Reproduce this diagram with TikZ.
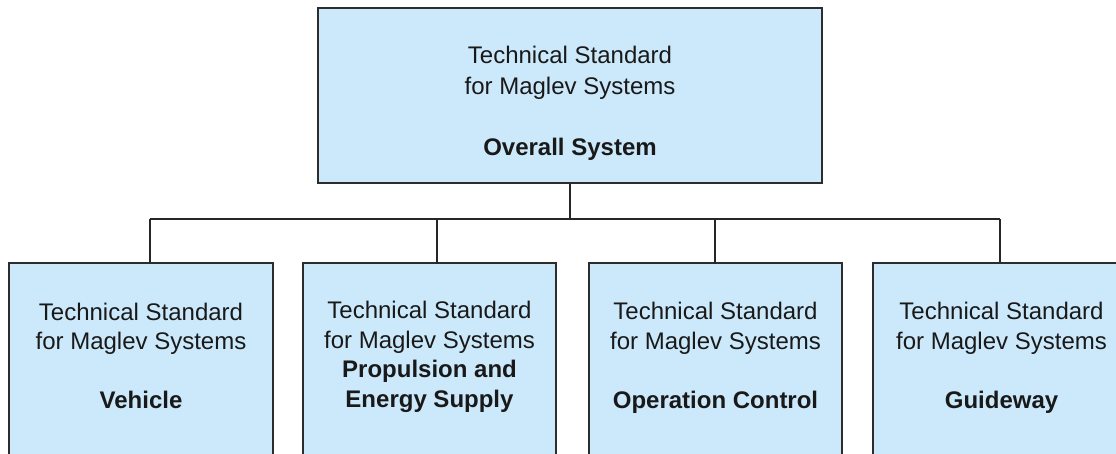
\documentclass[tikz,border=0pt]{standalone}
\usepackage{fontspec}
\setmainfont{Liberation Sans}
\definecolor{boxfill}{RGB}{204,233,251}
\definecolor{boxline}{RGB}{45,45,45}
\begin{document}
\begin{tikzpicture}[x=1pt,y=-1pt,
  stdbox/.style={draw=boxline,fill=boxfill,line width=1.6pt,rectangle,inner sep=0pt},
  boxtext/.style={align=center,font=\fontsize{24}{29.5}\selectfont,text=black!90},
  toptext/.style={boxtext,font=\fontsize{24}{31}\selectfont},
  conn/.style={draw=black!85,line width=1.6pt}]
\useasboundingbox (0,0) rectangle (1116,453);
\begin{scope}
\clip (0,0) rectangle (1116,453);
% top box
\node[stdbox,minimum width=504pt,minimum height=175pt] (top) at (570,95.5) {};
\node[toptext] (tt) at (570,103.5) {Technical Standard\\for Maglev Systems\\[30pt]\textbf{Overall System}};
% bottom boxes
\node[stdbox,minimum width=264pt,minimum height=220pt] (b1) at (141,373) {};
\node[stdbox,minimum width=253pt,minimum height=220pt] (b2) at (429.5,373) {};
\node[stdbox,minimum width=253pt,minimum height=220pt] (b3) at (715.5,373) {};
\node[stdbox,minimum width=257pt,minimum height=220pt] (b4) at (1001.5,373) {};
\node[boxtext] (t1) at (141,356) {Technical Standard\\for Maglev Systems\\[29.5pt]\textbf{Vehicle}};
\node[boxtext] (t2) at (429.5,357) {Technical Standard\\for Maglev Systems\\\textbf{Propulsion and}\\\textbf{Energy Supply}};
\node[boxtext] (t3) at (715.5,358) {Technical Standard\\for Maglev Systems\\[29.5pt]\textbf{Operation Control}};
\node[boxtext] (t4) at (1001.5,358) {Technical Standard\\for Maglev Systems\\[29.5pt]\textbf{Guideway}};
% connectors
\coordinate (bus) at (570,219);
\coordinate (busL) at (150,219);
\coordinate (busR) at (1000,219);
\draw[conn] (top.south) -- (bus);
\draw[conn] (busL) -- (busR);
\draw[conn] (busL) -- (busL |- b1.north);
\draw[conn] (437,219) -- (437,263.5);
\draw[conn] (715,219) -- (715,263.5);
\draw[conn] (busR) -- (busR |- b4.north);
\end{scope}
\end{tikzpicture}
\end{document}
